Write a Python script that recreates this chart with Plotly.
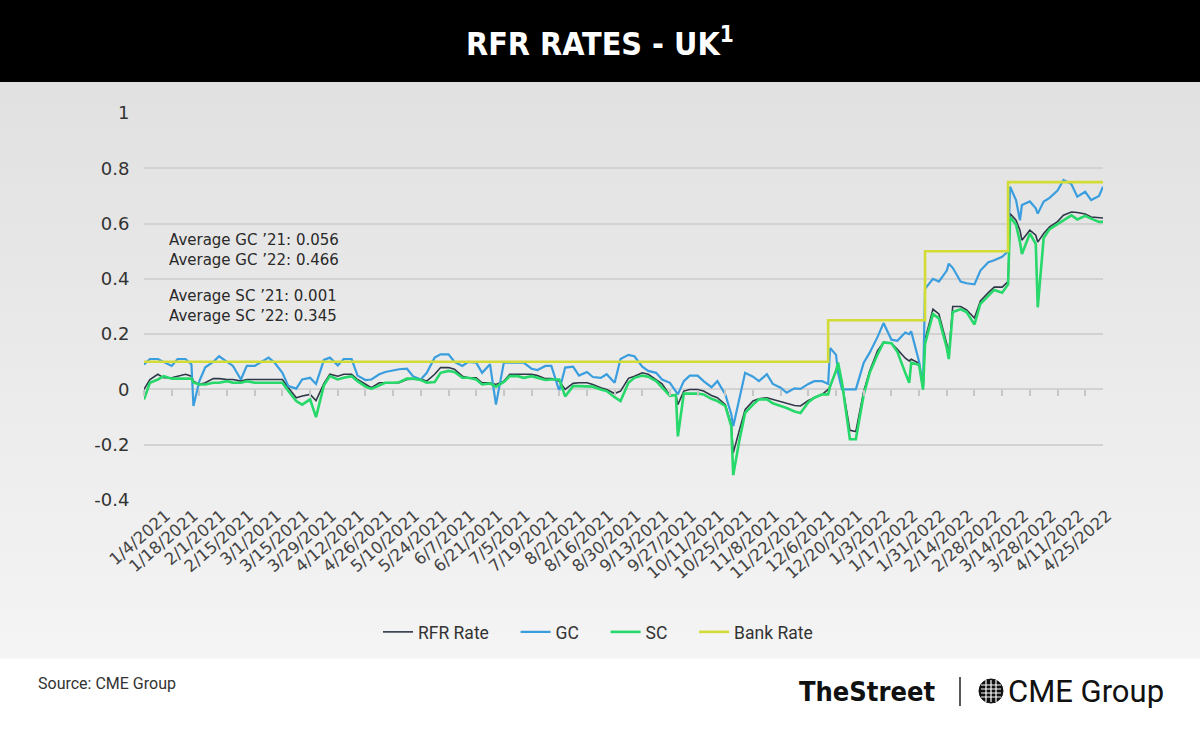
import plotly.graph_objects as go
import pandas as pd

# ---------------- data ----------------
dates = [
    "2021-01-04", "2021-01-07", "2021-01-11", "2021-01-14", "2021-01-18", "2021-01-21",
    "2021-01-25", "2021-01-28", "2021-01-29", "2021-02-01", "2021-02-04", "2021-02-08",
    "2021-02-11", "2021-02-15", "2021-02-18", "2021-02-22", "2021-02-25", "2021-03-01",
    "2021-03-04", "2021-03-08", "2021-03-11", "2021-03-15", "2021-03-18", "2021-03-22",
    "2021-03-25", "2021-03-29", "2021-04-01", "2021-04-05", "2021-04-08", "2021-04-12",
    "2021-04-15", "2021-04-19", "2021-04-22", "2021-04-26", "2021-04-29", "2021-05-03",
    "2021-05-06", "2021-05-10", "2021-05-13", "2021-05-17", "2021-05-20", "2021-05-24",
    "2021-05-27", "2021-05-31", "2021-06-03", "2021-06-07", "2021-06-10", "2021-06-14",
    "2021-06-17", "2021-06-21", "2021-06-24", "2021-06-28", "2021-07-01", "2021-07-05",
    "2021-07-08", "2021-07-12", "2021-07-15", "2021-07-19", "2021-07-22", "2021-07-26",
    "2021-07-29", "2021-08-02", "2021-08-05", "2021-08-09", "2021-08-12", "2021-08-16",
    "2021-08-19", "2021-08-23", "2021-08-26", "2021-08-30", "2021-09-02", "2021-09-06",
    "2021-09-09", "2021-09-13", "2021-09-16", "2021-09-20", "2021-09-23", "2021-09-27",
    "2021-09-30", "2021-10-01", "2021-10-04", "2021-10-07", "2021-10-11", "2021-10-14",
    "2021-10-18", "2021-10-21", "2021-10-25", "2021-10-28", "2021-10-29", "2021-11-01",
    "2021-11-04", "2021-11-08", "2021-11-11", "2021-11-15", "2021-11-18", "2021-11-22",
    "2021-11-25", "2021-11-29", "2021-12-02", "2021-12-06", "2021-12-09", "2021-12-13",
    "2021-12-16", "2021-12-17", "2021-12-20", "2021-12-21", "2021-12-23", "2021-12-27",
    "2021-12-30", "2022-01-03", "2022-01-06", "2022-01-10", "2022-01-13", "2022-01-17",
    "2022-01-20", "2022-01-24", "2022-01-26", "2022-01-27", "2022-01-31", "2022-02-02",
    "2022-02-03", "2022-02-07", "2022-02-10", "2022-02-14", "2022-02-15", "2022-02-17",
    "2022-02-21", "2022-02-24", "2022-02-28", "2022-03-03", "2022-03-07", "2022-03-10",
    "2022-03-14", "2022-03-17", "2022-03-18", "2022-03-21", "2022-03-23", "2022-03-24",
    "2022-03-28", "2022-03-31", "2022-04-01", "2022-04-04", "2022-04-07", "2022-04-11",
    "2022-04-14", "2022-04-18", "2022-04-21", "2022-04-25", "2022-04-28", "2022-05-02",
    "2022-05-04",
]

gc = [
    0.09, 0.11, 0.11, 0.10, 0.085, 0.11,
    0.11, 0.09, -0.06, 0.03, 0.08, 0.10,
    0.12, 0.10, 0.085, 0.036, 0.085, 0.085,
    0.097, 0.115, 0.097, 0.06, 0.012, 0.003,
    0.036, 0.042, 0.02, 0.107, 0.115, 0.087,
    0.11, 0.11, 0.05, 0.034, 0.036, 0.055,
    0.063, 0.07, 0.073, 0.075, 0.048, 0.036,
    0.06, 0.115, 0.127, 0.127, 0.10, 0.085,
    0.10, 0.097, 0.06, 0.091, -0.055, 0.097,
    0.097, 0.097, 0.097, 0.075, 0.07, 0.085,
    0.085, -0.005, 0.079, 0.082, 0.05, 0.063,
    0.045, 0.042, 0.055, 0.024, 0.11, 0.125,
    0.12, 0.082, 0.067, 0.06, 0.036, 0.024,
    -0.006, -0.018, 0.03, 0.05, 0.05, 0.03,
    0.008, 0.03, -0.018, -0.09, -0.133, -0.036,
    0.06, 0.046, 0.03, 0.055, 0.02, 0.006,
    -0.012, 0.004, 0.002, 0.02, 0.03, 0.03,
    0.02, 0.15, 0.125, 0.06, 0.0, 0.0,
    0.0, 0.097, 0.133, 0.19, 0.24, 0.18,
    0.176, 0.206, 0.20, 0.21, 0.10, 0.012,
    0.364, 0.40, 0.39, 0.43, 0.455, 0.44,
    0.39, 0.384, 0.38, 0.43, 0.46, 0.467,
    0.48, 0.50, 0.733, 0.685, 0.612, 0.667,
    0.68, 0.655, 0.636, 0.68, 0.693, 0.719,
    0.758, 0.743, 0.697, 0.715, 0.685, 0.70,
    0.733,
]

rfr = [
    0.0, 0.036, 0.055, 0.042, 0.042, 0.048,
    0.055, 0.048, 0.03, 0.018, 0.024, 0.039,
    0.039, 0.036, 0.036, 0.03, 0.036, 0.036,
    0.036, 0.036, 0.036, 0.036, 0.006, -0.03,
    -0.024, -0.018, -0.04, 0.022, 0.055, 0.048,
    0.055, 0.055, 0.036, 0.018, 0.006, 0.024,
    0.024, 0.024, 0.024, 0.036, 0.036, 0.038,
    0.03, 0.055, 0.079, 0.079, 0.073, 0.048,
    0.042, 0.042, 0.024, 0.024, 0.018, 0.03,
    0.055, 0.055, 0.055, 0.055, 0.05, 0.039,
    0.039, 0.03, 0.0, 0.022, 0.024, 0.024,
    0.018, 0.006, 0.0, -0.015, -0.006, 0.04,
    0.048, 0.06, 0.055, 0.036, 0.02, -0.022,
    -0.02, -0.055, -0.006, 0.0, 0.0, -0.006,
    -0.022, -0.03, -0.055, -0.127, -0.23, -0.15,
    -0.073, -0.042, -0.034, -0.03, -0.036, -0.045,
    -0.05, -0.058, -0.06, -0.04, -0.03, -0.018,
    0.0, 0.01, 0.07, 0.09, 0.024, -0.148,
    -0.152, -0.006, 0.067, 0.14, 0.17, 0.167,
    0.145, 0.113, 0.103, 0.109, 0.095, 0.0,
    0.18, 0.29, 0.273, 0.165, 0.125, 0.30,
    0.30, 0.288, 0.258, 0.32, 0.35, 0.37,
    0.37, 0.39, 0.636, 0.612, 0.576, 0.54,
    0.576, 0.558, 0.533, 0.564, 0.588, 0.607,
    0.63, 0.642, 0.64, 0.635, 0.624, 0.62,
    0.62,
]

sc = [
    -0.036, 0.024, 0.036, 0.048, 0.039, 0.039,
    0.039, 0.039, 0.025, 0.018, 0.018, 0.024,
    0.024, 0.03, 0.024, 0.024, 0.03, 0.024,
    0.024, 0.024, 0.024, 0.024, -0.006, -0.042,
    -0.055, -0.036, -0.10, 0.015, 0.048, 0.036,
    0.042, 0.048, 0.03, 0.01, 0.002, 0.015,
    0.024, 0.024, 0.026, 0.039, 0.039, 0.034,
    0.024, 0.027, 0.06, 0.067, 0.063, 0.042,
    0.042, 0.036, 0.018, 0.022, 0.01, 0.027,
    0.048, 0.048, 0.042, 0.048, 0.042, 0.034,
    0.036, 0.036, -0.025, 0.012, 0.012, 0.012,
    0.01, 0.0, -0.006, -0.028, -0.042, 0.024,
    0.042, 0.05, 0.046, 0.03, 0.008, -0.023,
    -0.02, -0.17, -0.015, -0.015, -0.015, -0.018,
    -0.034, -0.042, -0.06, -0.133, -0.31, -0.188,
    -0.085, -0.055, -0.036, -0.036, -0.05, -0.06,
    -0.067, -0.08, -0.085, -0.046, -0.03, -0.018,
    -0.018, 0.012, 0.067, 0.097, 0.024, -0.18,
    -0.18, -0.018, 0.06, 0.127, 0.17, 0.167,
    0.136, 0.06, 0.024, 0.097, 0.088, 0.0,
    0.165, 0.273, 0.257, 0.15, 0.11, 0.28,
    0.29, 0.28, 0.235, 0.31, 0.34, 0.36,
    0.35, 0.38, 0.624, 0.596, 0.533, 0.49,
    0.564, 0.527, 0.297, 0.548, 0.58, 0.598,
    0.612, 0.63, 0.615, 0.628, 0.618, 0.606,
    0.606,
]

bank_dates = ["2021-01-04", "2021-12-16", "2022-02-03", "2022-03-17", "2022-05-04"]
bank_rate = [0.10, 0.25, 0.50, 0.75, 0.75]

tick_labels = [
    "1/4/2021", "1/18/2021", "2/1/2021", "2/15/2021", "3/1/2021", "3/15/2021",
    "3/29/2021", "4/12/2021", "4/26/2021", "5/10/2021", "5/24/2021", "6/7/2021",
    "6/21/2021", "7/5/2021", "7/19/2021", "8/2/2021", "8/16/2021", "8/30/2021",
    "9/13/2021", "9/27/2021", "10/11/2021", "10/25/2021", "11/8/2021", "11/22/2021",
    "12/6/2021", "12/20/2021", "1/3/2022", "1/17/2022", "1/31/2022", "2/14/2022",
    "2/28/2022", "3/14/2022", "3/28/2022", "4/11/2022", "4/25/2022",
]
y_ticks = [-0.4, -0.2, 0, 0.2, 0.4, 0.6, 0.8, 1]
y_tick_text = ["-0.4", "-0.2", "0", "0.2", "0.4", "0.6", "0.8", "1"]

notes_gc = ["Average GC \u201921: 0.056", "Average GC \u201922: 0.466"]
notes_sc = ["Average SC \u201921: 0.001", "Average SC \u201922: 0.345"]

# ---------------- layout geometry ----------------
W, H = 1200, 743
L, R, T, B = 144, 97, 113, 243
PW, PH = W - L - R, H - T - B


def PX(px):
    return (px - L) / PW


def PY(py):
    return (H - B - py) / PH


tick_dates = pd.to_datetime(tick_labels, format="%m/%d/%Y")
x_range = [dates[0], dates[-1]]
PAD = "\u00a0" * 5

fig = go.Figure()
fig.add_trace(go.Scatter(x=dates, y=rfr, name="RFR Rate" + PAD, mode="lines",
                         line=dict(color="#2f3848", width=1.6)))
fig.add_trace(go.Scatter(x=dates, y=gc, name="GC" + PAD, mode="lines",
                         line=dict(color="#3a9ede", width=2.2)))
fig.add_trace(go.Scatter(x=dates, y=sc, name="SC" + PAD, mode="lines",
                         line=dict(color="#27d86a", width=2.6)))
fig.add_trace(go.Scatter(x=bank_dates, y=bank_rate, name="Bank Rate", mode="lines",
                         line=dict(color="#d3db35", width=2.6, shape="hv")))
# invisible helper so the secondary x axis (tick marks on the zero line) is drawn
fig.add_trace(go.Scatter(x=bank_dates, y=bank_rate, xaxis="x2", mode="lines",
                         line=dict(width=0, color="rgba(0,0,0,0)"), showlegend=False,
                         hoverinfo="skip"))

shapes = []
# gradient background of the chart panel (decorative strips)
top_c, bot_c = (225, 225, 225), (244, 244, 244)
y_top, y_bot, n = 82, 658, 48
for i in range(n):
    f = i / (n - 1)
    c = tuple(int(round(top_c[k] + (bot_c[k] - top_c[k]) * f)) for k in range(3))
    ya = y_top + (y_bot - y_top) * i / n
    yb = y_top + (y_bot - y_top) * (i + 1) / n
    shapes.append(dict(type="rect", xref="paper", yref="paper", layer="below",
                       x0=PX(0), x1=PX(W), y0=PY(yb + 0.6), y1=PY(ya),
                       fillcolor="rgb(%d,%d,%d)" % c, line=dict(width=0)))
# header bar
shapes.append(dict(type="rect", xref="paper", yref="paper", layer="below",
                   x0=PX(0), x1=PX(W), y0=PY(82), y1=PY(0),
                   fillcolor="#000000", line=dict(width=0)))
# footer separator
shapes.append(dict(type="line", xref="paper", yref="paper",
                   x0=PX(960), x1=PX(960), y0=PY(706), y1=PY(677),
                   line=dict(color="#222222", width=1.5)))
# CME globe icon
gx, gy, gr = 991, 691, 12
shapes.append(dict(type="circle", xref="paper", yref="paper",
                   x0=PX(gx - gr), x1=PX(gx + gr), y0=PY(gy + gr), y1=PY(gy - gr),
                   fillcolor="#111111", line=dict(color="#111111", width=1)))
for dx in (-5, 0, 5):
    shapes.append(dict(type="line", xref="paper", yref="paper",
                       x0=PX(gx + dx), x1=PX(gx + dx), y0=PY(gy + gr - 1), y1=PY(gy - gr + 1),
                       line=dict(color="#ffffff", width=1.2)))
for dy in (-6, -2, 2, 6):
    shapes.append(dict(type="line", xref="paper", yref="paper",
                       x0=PX(gx - gr + 2), x1=PX(gx + gr - 2), y0=PY(gy + dy), y1=PY(gy + dy),
                       line=dict(color="#ffffff", width=1)))

COND = "DejaVu Sans Condensed, Liberation Sans Narrow, DejaVu Sans"
annotations = [
    dict(text="<b>RFR RATES - UK<sup>1</sup></b>", xref="paper", yref="paper",
         x=PX(600), y=PY(42), xanchor="center", yanchor="middle", showarrow=False,
         font=dict(family=COND, size=32, color="#ffffff")),
    dict(text="<br>".join(notes_gc), xref="paper", yref="paper", x=PX(167), y=PY(250),
         xanchor="left", yanchor="middle", align="left", showarrow=False,
         font=dict(family="DejaVu Sans", size=15, color="#2a2a2a")),
    dict(text="<br>".join(notes_sc), xref="paper", yref="paper", x=PX(167), y=PY(306),
         xanchor="left", yanchor="middle", align="left", showarrow=False,
         font=dict(family="DejaVu Sans", size=15, color="#2a2a2a")),
    dict(text="Source: CME Group", xref="paper", yref="paper", x=PX(36), y=PY(683),
         xanchor="left", yanchor="middle", showarrow=False,
         font=dict(family="Roboto", size=16, color="#333333")),
    dict(text="<b>TheStreet</b>", xref="paper", yref="paper", x=PX(937), y=PY(691),
         xanchor="right", yanchor="middle", showarrow=False,
         font=dict(family=COND, size=27, color="#111111")),
    dict(text="CME Group", xref="paper", yref="paper", x=PX(1006), y=PY(691),
         xanchor="left", yanchor="middle", showarrow=False,
         font=dict(family="Roboto", size=31, color="#111111")),
]

fig.update_layout(
    width=W, height=H,
    margin=dict(l=L, r=R, t=T, b=B, pad=0),
    paper_bgcolor="#ffffff", plot_bgcolor="rgba(0,0,0,0)",
    shapes=shapes, annotations=annotations,
    showlegend=True, hovermode=False,
    legend=dict(orientation="h", x=PX(598), y=PY(632), xanchor="center", yanchor="middle",
                bgcolor="rgba(0,0,0,0)", font=dict(family="Roboto", size=17.5, color="#333333"),
                itemwidth=30, traceorder="normal"),
    xaxis=dict(type="date", range=x_range, tickvals=tick_dates, ticktext=tick_labels,
               tickangle=-41, showgrid=False, zeroline=False, showline=False, ticks="",
               ticklabelshift=22, ticklabelstandoff=2,
               tickfont=dict(family="DejaVu Sans", size=16.5, color="#444444")),
    xaxis2=dict(type="date", range=x_range, overlaying="x", anchor="free",
                position=(0 - y_ticks[0]) / (y_ticks[-1] - y_ticks[0]), side="bottom",
                tickvals=tick_dates, showticklabels=False, ticks="outside", ticklen=6,
                tickwidth=1.5, tickcolor="#c6c6c6", showgrid=False, zeroline=False,
                showline=False),
    yaxis=dict(range=[y_ticks[0], y_ticks[-1]], tickvals=y_ticks, ticktext=y_tick_text,
               showgrid=True, gridcolor="#d2d2d2", gridwidth=1.6, zeroline=False,
               showline=False, ticks="outside", ticklen=10, tickcolor="rgba(0,0,0,0)",
               tickfont=dict(family="DejaVu Sans", size=18, color="#333333")),
)

fig.write_html("out.html", config={"displayModeBar": False},
               post_script="document.body.style.margin='0';document.body.style.overflow='hidden';")
